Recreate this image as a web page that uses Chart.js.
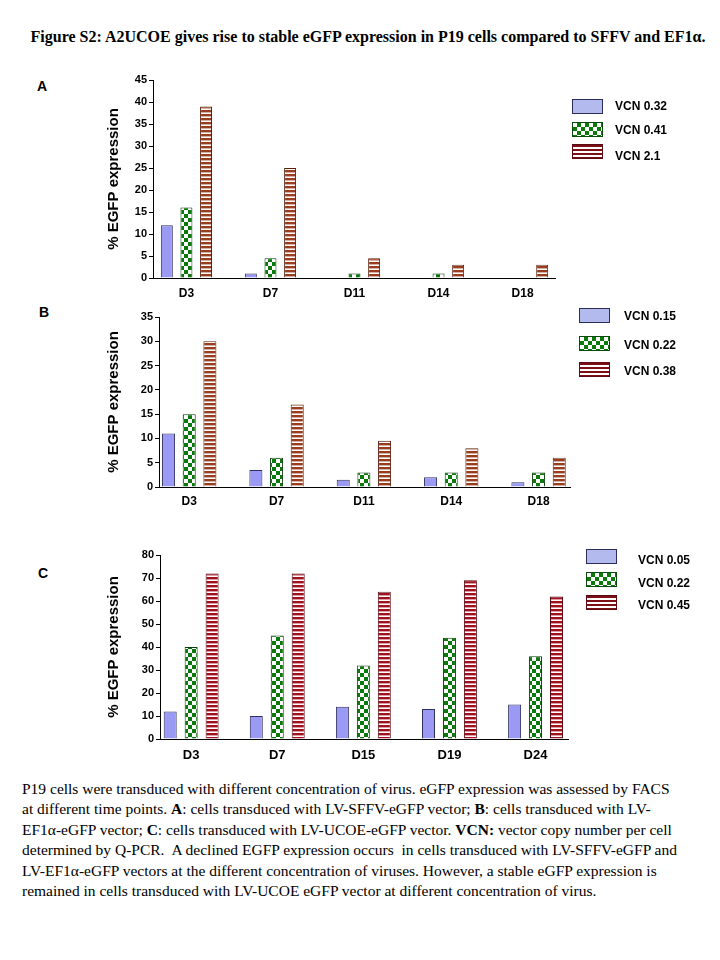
<!DOCTYPE html>
<html>
<head>
<meta charset="utf-8">
<script src="https://cdn.jsdelivr.net/npm/chart.js@4.4.1/dist/chart.umd.min.js"></script>
<style>
  html, body { margin:0; padding:0; background:#fff; }
  body { width:720px; height:960px; position:relative; overflow:hidden; }
  .abs { position:absolute; }
  canvas { position:absolute; left:0; }
  #title { left:0; width:736px; top:28px; text-align:center; font:bold 16px "Liberation Serif", "Times New Roman", serif; color:#000; white-space:nowrap; }
  .panel { font:bold 14px "Liberation Sans", Arial, sans-serif; color:#000; }
  .lg { position:absolute; width:31px; height:15px; box-sizing:border-box; border:1px solid #222; }
  .lgb { background:#b3bbee; border-color:#2c2c5a; }
  .lgg { background-color:#fff; background-image:conic-gradient(#0b7a0b 25%, #fff 0 50%, #0b7a0b 0 75%, #fff 0); background-size:8px 8px; border-color:#0a4a0a; }
  .lgr { background:repeating-linear-gradient(to bottom, #7d0f16 0 2px, #fff 2px 4px); border-color:#5a0a10; }
  .lt { position:absolute; font:bold 12px "Liberation Sans", Arial, sans-serif; color:#000; white-space:nowrap; line-height:14px; }
  #caption { left:22px; top:779px; font:15.5px/20.4px "Liberation Serif", "Times New Roman", serif; color:#000; white-space:nowrap; }
</style>
</head>
<body>
<div id="title" class="abs">Figure S2: A2UCOE gives rise to stable eGFP expression in P19 cells compared to SFFV and EF1α.</div>

<div class="abs panel" style="left:37px;top:78px;">A</div>
<div class="abs panel" style="left:39px;top:304px;">B</div>
<div class="abs panel" style="left:38px;top:565px;">C</div>

<canvas id="chartA" width="720" height="238" style="top:70px;"></canvas>
<canvas id="chartB" width="720" height="210" style="top:307px;"></canvas>
<canvas id="chartC" width="720" height="224" style="top:545px;"></canvas>

<!-- legends -->
<div class="lg lgb" style="left:572px;top:99px;"></div>
<div class="lg lgg" style="left:572px;top:122px;"></div>
<div class="lg lgr" style="left:572px;top:144px;"></div>
<div class="lt" id="lA0" style="left:615px;top:99px;"></div>
<div class="lt" id="lA1" style="left:615px;top:123px;"></div>
<div class="lt" id="lA2" style="left:615px;top:149px;"></div>

<div class="lg lgb" style="left:579px;top:308px;"></div>
<div class="lg lgg" style="left:579px;top:336px;"></div>
<div class="lg lgr" style="left:579px;top:362px;"></div>
<div class="lt" id="lB0" style="left:624px;top:309px;"></div>
<div class="lt" id="lB1" style="left:624px;top:338px;"></div>
<div class="lt" id="lB2" style="left:624px;top:364px;"></div>

<div class="lg lgb" style="left:586px;top:549px;"></div>
<div class="lg lgg" style="left:586px;top:572px;"></div>
<div class="lg lgr" style="left:586px;top:595px;"></div>
<div class="lt" id="lC0" style="left:638px;top:553px;"></div>
<div class="lt" id="lC1" style="left:638px;top:576px;"></div>
<div class="lt" id="lC2" style="left:638px;top:598px;"></div>

<div id="caption" class="abs">P19 cells were transduced with different concentration of virus. eGFP expression was assessed by FACS<br>at different time points. <b>A</b>: cells transduced with LV-SFFV-eGFP vector; <b>B</b>: cells transduced with LV-<br>EF1α-eGFP vector; <b>C</b>: cells transduced with LV-UCOE-eGFP vector. <b>VCN:</b> vector copy number per cell<br>determined by Q-PCR.&nbsp; A declined EGFP expression occurs&nbsp; in cells transduced with LV-SFFV-eGFP and<br>LV-EF1α-eGFP vectors at the different concentration of viruses. However, a stable eGFP expression is<br>remained in cells transduced with LV-UCOE eGFP vector at different concentration of virus.</div>

<script>
// ---------- DATA ----------
const yAxisTitle = '% EGFP expression';

const daysA = ['D3', 'D7', 'D11', 'D14', 'D18'];
const vcnLabelsA = ['VCN 0.32', 'VCN 0.41', 'VCN 2.1'];
const vcnA_032 = [12, 1, 0, 0, 0];
const vcnA_041 = [16, 4.5, 1, 1, 0];
const vcnA_21  = [39, 25, 4.5, 3, 3];
const yTicksA = { max: 45, step: 5 };

const daysB = ['D3', 'D7', 'D11', 'D14', 'D18'];
const vcnLabelsB = ['VCN 0.15', 'VCN 0.22', 'VCN 0.38'];
const vcnB_015 = [11, 3.5, 1.5, 2, 1];
const vcnB_022 = [15, 6, 3, 3, 3];
const vcnB_038 = [30, 17, 9.5, 8, 6];
const yTicksB = { max: 35, step: 5 };

const daysC = ['D3', 'D7', 'D15', 'D19', 'D24'];
const vcnLabelsC = ['VCN 0.05', 'VCN 0.22', 'VCN 0.45'];
const vcnC_005 = [12, 10, 14, 13, 15];
const vcnC_022 = [40, 45, 32, 44, 36];
const vcnC_045 = [72, 72, 64, 69, 62];
const yTicksC = { max: 80, step: 10 };

// ---------- STYLE / PATTERNS ----------
function checkerPattern(dark) {
  const c = document.createElement('canvas');
  c.width = 8; c.height = 8;
  const x = c.getContext('2d');
  x.fillStyle = '#ffffff'; x.fillRect(0, 0, 8, 8);
  x.fillStyle = dark;
  x.fillRect(0, 0, 4, 4); x.fillRect(4, 4, 4, 4);
  return x.createPattern(c, 'repeat');
}
function stripePattern(dark) {
  const c = document.createElement('canvas');
  c.width = 4; c.height = 4;
  const x = c.getContext('2d');
  x.fillStyle = '#ffffff'; x.fillRect(0, 0, 4, 4);
  x.fillStyle = dark; x.fillRect(0, 0, 4, 2.4);
  return x.createPattern(c, 'repeat');
}

const blueFill = '#9a9af4';
const blueBorder = '#30305e';
const greenDark = '#0b780b';
const greenBorder = '#0a3f0a';

function makeChart(id, days, labels, series, yt, geo) {
  const ctx = document.getElementById(id).getContext('2d');
  const fills = [blueFill, checkerPattern(greenDark), stripePattern(geo.stripe)];
  const borders = [blueBorder, greenBorder, geo.stripeBorder];
  const datasets = series.map((vals, k) => ({
    label: labels[k],
    data: vals.map((v, i) => ({ x: i, y: v })),
    backgroundColor: fills[k],
    borderColor: borders[k],
    borderWidth: 1,
    borderSkipped: 'start',
    barPercentage: geo.barPct,
    categoryPercentage: geo.catPct
  }));
  return new Chart(ctx, {
    type: 'bar',
    data: { datasets },
    options: {
      responsive: false,
      devicePixelRatio: 1,
      animation: false,
      layout: { padding: { left: 95, top: 10, bottom: 0, right: 720 - geo.right } },
      plugins: { legend: { display: false }, tooltip: { enabled: false } },
      scales: {
        x: {
          type: 'linear',
          offset: false,
          min: geo.xmin, max: geo.xmax,
          afterBuildTicks: s => { s.ticks = days.map((d, i) => ({ value: i })); },
          afterFit: s => { s.height = 30; },
          grid: { display: false, drawTicks: false, offset: false },
          border: { display: true, color: '#000', width: 1 },
          ticks: {
            autoSkip: false, maxRotation: 0, minRotation: 0,
            padding: geo.xpad, color: '#000',
            font: { family: '"Liberation Sans", Arial, sans-serif', size: geo.xfont, weight: 'bold' },
            callback: v => days[Math.round(v)]
          }
        },
        y: {
          min: 0, max: yt.max,
          afterFit: s => { s.width = geo.left - 95; },
          grid: { display: true, drawOnChartArea: false, drawTicks: true, tickLength: 4, color: '#000', lineWidth: 1 },
          border: { display: true, color: '#000', width: 1 },
          ticks: {
            stepSize: yt.step, padding: 2, color: '#000',
            font: { family: '"Liberation Sans", Arial, sans-serif', size: 11, weight: 'bold' }
          },
          title: {
            display: true, text: yAxisTitle, color: '#000',
            padding: { top: 10, bottom: 0 },
            font: { family: '"Liberation Sans", Arial, sans-serif', size: 15, weight: 'bold' }
          }
        }
      }
    }
  });
}

makeChart('chartA', daysA, vcnLabelsA, [vcnA_032, vcnA_041, vcnA_21], yTicksA,
  { left: 153, right: 555, xmin: -0.398, xmax: 4.386, barPct: 0.61, catPct: 0.70, xpad: 8, xfont: 12,
    stripe: '#9a3c1e', stripeBorder: '#5a200c' });
makeChart('chartB', daysB, vcnLabelsB, [vcnB_015, vcnB_022, vcnB_038], yTicksB,
  { left: 159, right: 570, xmin: -0.346, xmax: 4.36, barPct: 0.63, catPct: 0.71, xpad: 7, xfont: 12,
    stripe: '#9a3c1e', stripeBorder: '#5a200c' });
makeChart('chartC', daysC, vcnLabelsC, [vcnC_005, vcnC_022, vcnC_045], yTicksC,
  { left: 160, right: 568, xmin: -0.362, xmax: 4.377, barPct: 0.62, catPct: 0.73, xpad: 9, xfont: 13,
    stripe: '#a0101e', stripeBorder: '#5a0810' });

// legend texts from the label arrays
[['A', vcnLabelsA], ['B', vcnLabelsB], ['C', vcnLabelsC]].forEach(([p, arr]) => {
  arr.forEach((t, i) => { document.getElementById('l' + p + i).textContent = t; });
});
</script>
</body>
</html>
